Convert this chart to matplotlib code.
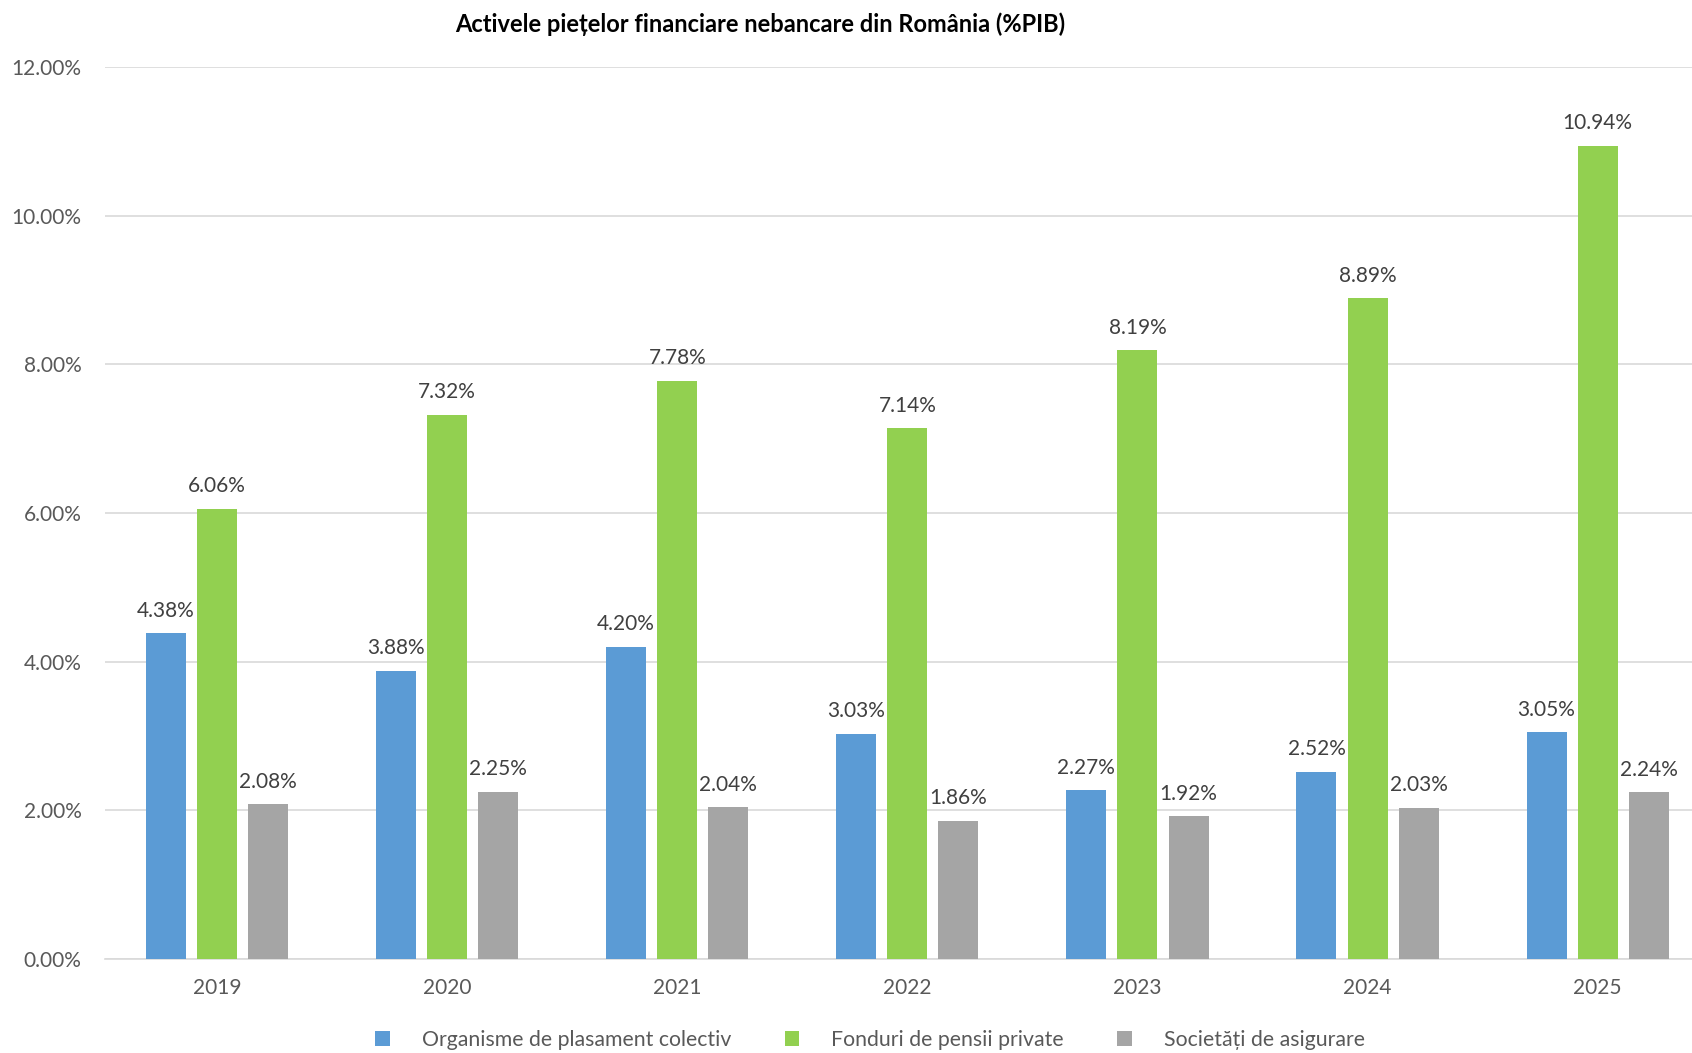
import matplotlib.pyplot as plt
import numpy as np
from matplotlib.ticker import FuncFormatter

plt.rcParams['font.family'] = ['Lato', 'DejaVu Sans']

years = ['2019', '2020', '2021', '2022', '2023', '2024', '2025']
series_names = ['Organisme de plasament colectiv', 'Fonduri de pensii private', 'Societăți de asigurare']
opc = [4.38, 3.88, 4.20, 3.03, 2.27, 2.52, 3.05]
pensii = [6.06, 7.32, 7.78, 7.14, 8.19, 8.89, 10.94]
asigurari = [2.08, 2.25, 2.04, 1.86, 1.92, 2.03, 2.24]
colors = ['#5b9bd5', '#92d050', '#a5a5a5']

fig = plt.figure(figsize=(16.92, 10.53), dpi=100)
ax = fig.add_axes([105 / 1692, 1 - 959 / 1053, 1 - 105 / 1692, (959 - 67) / 1053])

x = np.arange(len(years))
width = 0.174
step = 0.222
for k, (vals, c, name) in enumerate(zip([opc, pensii, asigurari], colors, series_names)):
    pos = x + (k - 1) * step
    bars = ax.bar(pos, vals, width, color=c, label=name, zorder=3)
    for b, v in zip(bars, vals):
        ax.text(b.get_x() + b.get_width() / 2, v + 0.17, f'{v:.2f}%', ha='center', va='bottom',
                fontsize=15, color='#404040')

ax.set_ylim(0, 12)
ax.set_xlim(-0.487, 6.41)
ax.set_yticks(np.arange(0, 12.01, 2))
ax.yaxis.set_major_formatter(FuncFormatter(lambda v, p: f'{v:.2f}%'))
ax.set_xticks(x)
ax.set_xticklabels(years)
ax.grid(axis='y', color='#d9d9d9', linewidth=1.2, zorder=0)
for s in ['top', 'right', 'left']:
    ax.spines[s].set_visible(False)
ax.spines['bottom'].set_color('#d9d9d9')
ax.spines['bottom'].set_linewidth(1.2)
ax.tick_params(axis='both', length=0, labelsize=15, colors='#595959')
ax.tick_params(axis='y', pad=17)
ax.tick_params(axis='x', pad=14)

fig.text(760 / 1692, 1 - 24 / 1053, 'Activele piețelor financiare nebancare din România (%PIB)',
         ha='center', va='center', fontsize=17, fontweight='bold', color='black')

fig.legend(loc='center', bbox_to_anchor=(870 / 1692, 1 - 1040 / 1053), ncol=3, frameon=False,
           fontsize=15.3, handlelength=0.7, handleheight=0.7, columnspacing=2.5, handletextpad=1.5,
           labelcolor='#595959')

fig.savefig('out.png', dpi=100)
